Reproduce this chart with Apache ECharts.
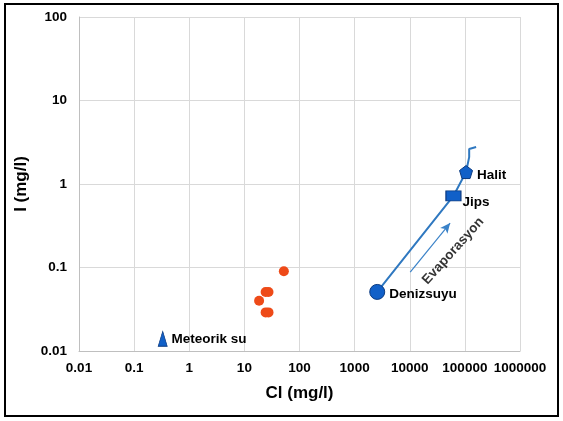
<!DOCTYPE html>
<html><head><meta charset="utf-8">
<script src="https://cdn.jsdelivr.net/npm/echarts@6/dist/echarts.min.js"></script>
<style>
html,body{margin:0;padding:0;background:#fff;}
#frame{position:absolute;left:4px;top:3px;width:551px;height:410px;border:2px solid #000;}
#c{position:absolute;left:0;top:0;width:563px;height:421px;}
</style></head>
<body><div id="frame"></div><div id="c"></div>
<script>
// Tick labels
const xTickLabels = ['0.01','0.1','1','10','100','1000','10000','100000','1000000'];
const yTickLabels = ['0.01','0.1','1','10','100'];
// Meteoric water
const meteoricCl = [0.33];
const meteoricI = [0.014];
// Samples (orange)
const sampleCl = [52, 24.3, 27.4, 18.5, 24.3, 27.4];
const sampleI  = [0.09, 0.051, 0.051, 0.040, 0.029, 0.029];
// Evaporation path of seawater
const pathCl = [2570, 62000, 105000, 119700, 119700, 160000];
const pathI  = [0.051, 0.72, 1.39, 2.1, 2.63, 2.77];
// Named stages
const stageNames = ['Denizsuyu','Jips','Halit'];
const stageCl = [2570, 62000, 105000];
const stageI  = [0.051, 0.72, 1.39];
// Evaporation arrow
const arrowCl = [10200, 54000];
const arrowI  = [0.088, 0.34];
const arrowLabel = 'Evaporasyon';
const arrowLabelPos = [61400, 0.158];

const fmt = (labels, minExp) => v => {
  const e = Math.round(Math.log10(v));
  return labels[e - minExp] ?? '';
};
const pentagon = 'path://M50,0 L100,38 L81,100 L19,100 L0,38 Z';
const blue = '#1160C8', blueDark = '#0B3A80', lineBlue = '#2F78C0';
const FF = 'Liberation Sans, Arial';
const lab = {show:true, color:'#000', fontWeight:'bold', fontSize:13.5, fontFamily:FF};

const chart = echarts.init(document.getElementById('c'));
chart.setOption({
  animation:false,
  grid:{left:79, right:43, top:17, bottom:70},
  xAxis:{type:'log', logBase:10, min:0.01, max:1000000,
    name:'Cl (mg/l)', nameLocation:'middle', nameGap:34,
    nameTextStyle:{fontWeight:'bold', fontSize:17, color:'#000', fontFamily:FF},
    axisLine:{lineStyle:{color:'#bfbfbf'}}, axisTick:{show:false},
    splitLine:{show:true, lineStyle:{color:'#d9d9d9'}},
    axisLabel:{formatter:fmt(xTickLabels,-2), color:'#000', fontWeight:'bold', fontSize:13.5, fontFamily:FF, margin:10}},
  yAxis:{type:'log', logBase:10, min:0.01, max:100,
    name:'I (mg/l)', nameLocation:'middle', nameGap:48, nameRotate:90,
    nameTextStyle:{fontWeight:'bold', fontSize:17, color:'#000', fontFamily:FF},
    axisLine:{show:true, lineStyle:{color:'#bfbfbf'}}, axisTick:{show:false},
    splitLine:{show:true, lineStyle:{color:'#d9d9d9'}},
    axisLabel:{formatter:fmt(yTickLabels,-2), color:'#000', fontWeight:'bold', fontSize:13.5, fontFamily:FF, margin:12}},
  series:[
    {type:'line', data:pathCl.map((x,i)=>[x,pathI[i]]), showSymbol:false, symbol:'none',
     lineStyle:{color:lineBlue, width:2}, z:2},
    {type:'scatter', data:sampleCl.map((x,i)=>[x,sampleI[i]]), symbol:'circle', symbolSize:10,
     itemStyle:{color:'#EE4A18', opacity:1}, z:3},
    {type:'scatter', data:meteoricCl.map((x,i)=>[x,meteoricI[i]]), symbol:'triangle', symbolSize:[9,15],
     itemStyle:{color:blue, borderColor:blueDark, borderWidth:0.8, opacity:1},
     label:Object.assign({}, lab, {position:'right', distance:4, formatter:'Meteorik su'}), z:4},
    {type:'scatter', data:stageCl.map((x,i)=>({name:stageNames[i], value:[x,stageI[i]],
        symbol: i===0 ? 'circle' : (i===1 ? 'rect' : pentagon),
        symbolSize: i===0 ? 15 : (i===1 ? [15,10] : 13),
        label: i===0 ? {offset:[0,2]} : (i===1 ? {offset:[-3,6]} : {offset:[0,3]})})),
     itemStyle:{color:blue, borderColor:blueDark, borderWidth:1, opacity:1},
     label:Object.assign({}, lab, {position:'right', distance:4, formatter:'{b}'}), z:4},
    {type:'line', data:[], markLine:{silent:true, symbol:['none','arrow'], symbolSize:[7,10],
        lineStyle:{color:'#3A82C8', width:1.2, type:'solid'}, label:{show:false},
        data:[[{coord:[arrowCl[0],arrowI[0]]},{coord:[arrowCl[1],arrowI[1]]}]]}},
    {type:'scatter', data:[{value:arrowLabelPos, name:arrowLabel}], symbolSize:0,
     label:Object.assign({}, lab, {position:'inside', rotate:48, formatter:'{b}', fontSize:13.5}), z:5}
  ]
});
</script></body></html>
